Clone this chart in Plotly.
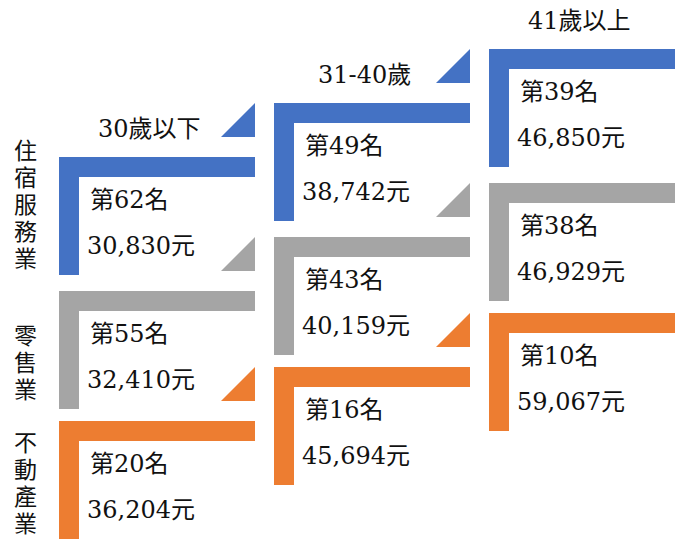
import plotly.graph_objects as go

# ---- data ----
industries = ["住宿服務業", "零售業", "不動產業"]
age_groups = ["30歲以下", "31-40歲", "41歲以上"]
ranks = [
    [62, 49, 39],   # 住宿服務業
    [55, 43, 38],   # 零售業
    [20, 16, 10],   # 不動產業
]
salaries = [
    [30830, 38742, 46850],
    [32410, 40159, 46929],
    [36204, 45694, 59067],
]
industry_colors = ["#4472C4", "#A5A5A5", "#ED7D31"]

# ---- layout constants ----
W, H = 675, 539
col_x0, col_step = 59, 215          # left edge of first column, step between columns
col_top0, col_rise = 157, 54        # top of first column's first L, rise per column
row_offsets = [0, 134, 264]         # vertical offsets of industries inside a column
L_w, L_h, L_t = 196, 118, 20        # width, height, thickness of L shapes
tri = 34                            # triangle size
label_nudge = [-11, 13, 3]          # fine adjustment of row labels
label_pitch = 27
serif = "DejaVu Serif, Noto Sans CJK TC, serif"
txt_color = "#111111"
fs = 24

fig = go.Figure()
shapes, annotations = [], []

for c, age in enumerate(age_groups):
    x0 = col_x0 + c * col_step
    top0 = col_top0 - c * col_rise
    # column header
    annotations.append(dict(x=x0 + 90, y=top0 - 28, text=age, showarrow=False,
                            xanchor="center", yanchor="middle",
                            font=dict(family=serif, size=fs, color=txt_color)))
    for r, ind in enumerate(industries):
        top = top0 + row_offsets[r]
        col = industry_colors[r]
        # L shape
        path = (f"M{x0},{top} L{x0 + L_w},{top} L{x0 + L_w},{top + L_t} "
                f"L{x0 + L_t},{top + L_t} L{x0 + L_t},{top + L_h} L{x0},{top + L_h} Z")
        shapes.append(dict(type="path", path=path, xref="x", yref="y",
                           fillcolor=col, line=dict(width=0), layer="above"))
        # triangle step toward next column
        if c < len(age_groups) - 1:
            tb = top - L_t
            tr = x0 + L_w
            tpath = f"M{tr - tri},{tb} L{tr},{tb} L{tr},{tb - tri} Z"
            shapes.append(dict(type="path", path=tpath, xref="x", yref="y",
                               fillcolor=col, line=dict(width=0), layer="above"))
        # texts
        annotations.append(dict(x=x0 + 29, y=top + 43, text=f"第{ranks[r][c]}名",
                                showarrow=False, xanchor="left", yanchor="middle",
                                font=dict(family=serif, size=fs, color=txt_color)))
        annotations.append(dict(x=x0 + 26, y=top + 89, text=f"{salaries[r][c]:,}元",
                                showarrow=False, xanchor="left", yanchor="middle",
                                font=dict(family=serif, size=fs, color=txt_color)))

# row labels (vertical, one character per line)
for r, ind in enumerate(industries):
    center = col_top0 + row_offsets[r] + L_h / 2 + label_nudge[r]
    n = len(ind)
    for k, ch in enumerate(ind):
        annotations.append(dict(x=25, y=center + (k - (n - 1) / 2) * label_pitch,
                                text=ch, showarrow=False,
                                xanchor="center", yanchor="middle",
                                font=dict(family=serif, size=23, color=txt_color)))

fig.update_layout(
    width=W, height=H,
    margin=dict(l=0, r=0, t=0, b=0),
    paper_bgcolor="white", plot_bgcolor="white",
    xaxis=dict(range=[0, W], visible=False, fixedrange=True),
    yaxis=dict(range=[H, 0], visible=False, fixedrange=True),
    shapes=shapes, annotations=annotations,
    showlegend=False,
)
fig.write_html("out.html", config={"displayModeBar": False},
               post_script="document.body.style.margin='0';document.body.style.overflow='hidden';")
